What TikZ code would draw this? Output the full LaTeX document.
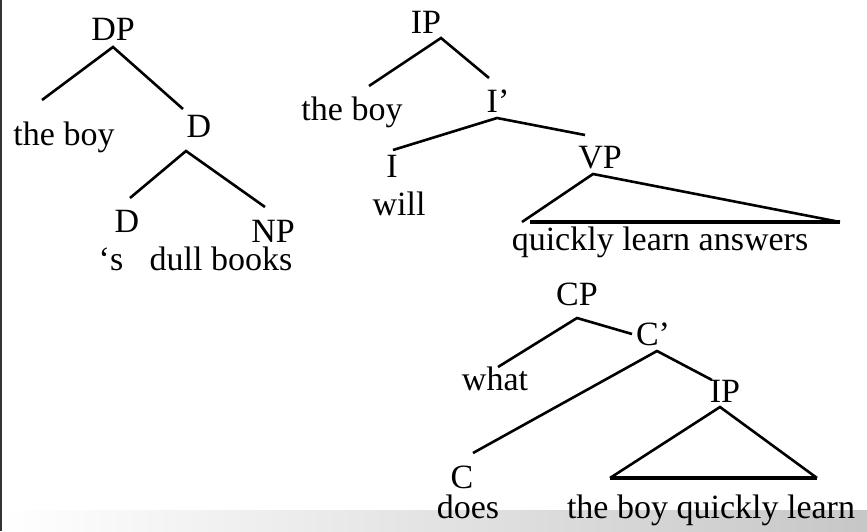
\documentclass[tikz,border=0pt]{standalone}
\usepackage{fontspec}
\setmainfont{Liberation Serif}
\begin{document}
\begin{tikzpicture}[x=1pt,y=-1pt,
  lbl/.style={anchor=base,inner sep=0pt,font=\fontsize{34}{34}\selectfont},
  br/.style={line width=2.6pt},
  tribase/.style={line width=3.6pt}]
\useasboundingbox (0,0) rectangle (867,531);
\shade[left color=white,right color=black!22] (0,510) rectangle (867,531);
\draw[line width=2pt, black!80] (1,0) -- (1,531);

% DP tree
\node[lbl] (dp) at (113,40) {DP};
\coordinate (dpt) at (113,47);
\coordinate (dpl) at (42,100);
\coordinate (dpr) at (183,109);
\node[lbl] (boy1) at (64,145) {the boy};
\node[lbl] (d1) at (199,137) {D};
\coordinate (d1t) at (186,151);
\coordinate (d1l) at (130,198);
\coordinate (d1r) at (265,207);
\node[lbl] (d2) at (127,232) {D};
\node[lbl] (np) at (273,242) {NP};
\node[lbl] (s) at (111,270) {‘s};
\node[lbl] (dull) at (221,270) {dull books};
\draw[br] (dpl) -- (dpt) -- (dpr);
\draw[br] (d1l) -- (d1t) -- (d1r);

% IP tree
\node[lbl] (ip1) at (426,33) {IP};
\coordinate (ip1t) at (441,38);
\coordinate (ip1l) at (369,86);
\coordinate (ip1r) at (489,78);
\node[lbl] (boy2) at (352,120) {the boy};
\node[lbl] (ibar) at (498,112) {I’};
\coordinate (ibart) at (497,118);
\coordinate (ibarl) at (393,150);
\coordinate (ibarr) at (585,135);
\node[lbl] (i) at (392,177) {I};
\node[lbl] (will) at (399,215) {will};
\node[lbl] (vp) at (600,168) {VP};
\coordinate (vpt) at (593,174);
\coordinate (vpl) at (522,222);
\coordinate (vpbl) at (530,222);
\coordinate (vpr) at (840,222);
\node[lbl] (qla) at (660,250) {quickly learn answers};
\draw[br] (ip1l) -- (ip1t) -- (ip1r);
\draw[br] (ibarl) -- (ibart) -- (ibarr);
\draw[br] (vpl) -- (vpt) -- (vpr);
\draw[tribase] (vpbl) -- (vpr);

% CP tree
\node[lbl] (cp) at (577,305) {CP};
\coordinate (cpt) at (577,318);
\coordinate (cpl) at (498,367);
\coordinate (cpr) at (632,334);
\node[lbl] (cbar) at (653,345) {C’};
\coordinate (cbart) at (657,351);
\coordinate (cbarl) at (473,453);
\coordinate (cbarr) at (712,380);
\node[lbl] (what) at (495,390) {what};
\node[lbl] (ip2) at (725,402) {IP};
\coordinate (ip2t) at (720,407);
\coordinate (ip2l) at (610,478);
\coordinate (ip2r) at (817,478);
\node[lbl] (c) at (462,488) {C};
\node[lbl] (does) at (468,518) {does};
\node[lbl] (tbql) at (711,518) {the boy quickly learn};
\draw[br] (cpl) -- (cpt) -- (cpr);
\draw[br] (cbarl) -- (cbart) -- (cbarr);
\draw[br] (ip2l) -- (ip2t) -- (ip2r);
\draw[tribase] (ip2l) -- (ip2r);
\end{tikzpicture}
\end{document}
